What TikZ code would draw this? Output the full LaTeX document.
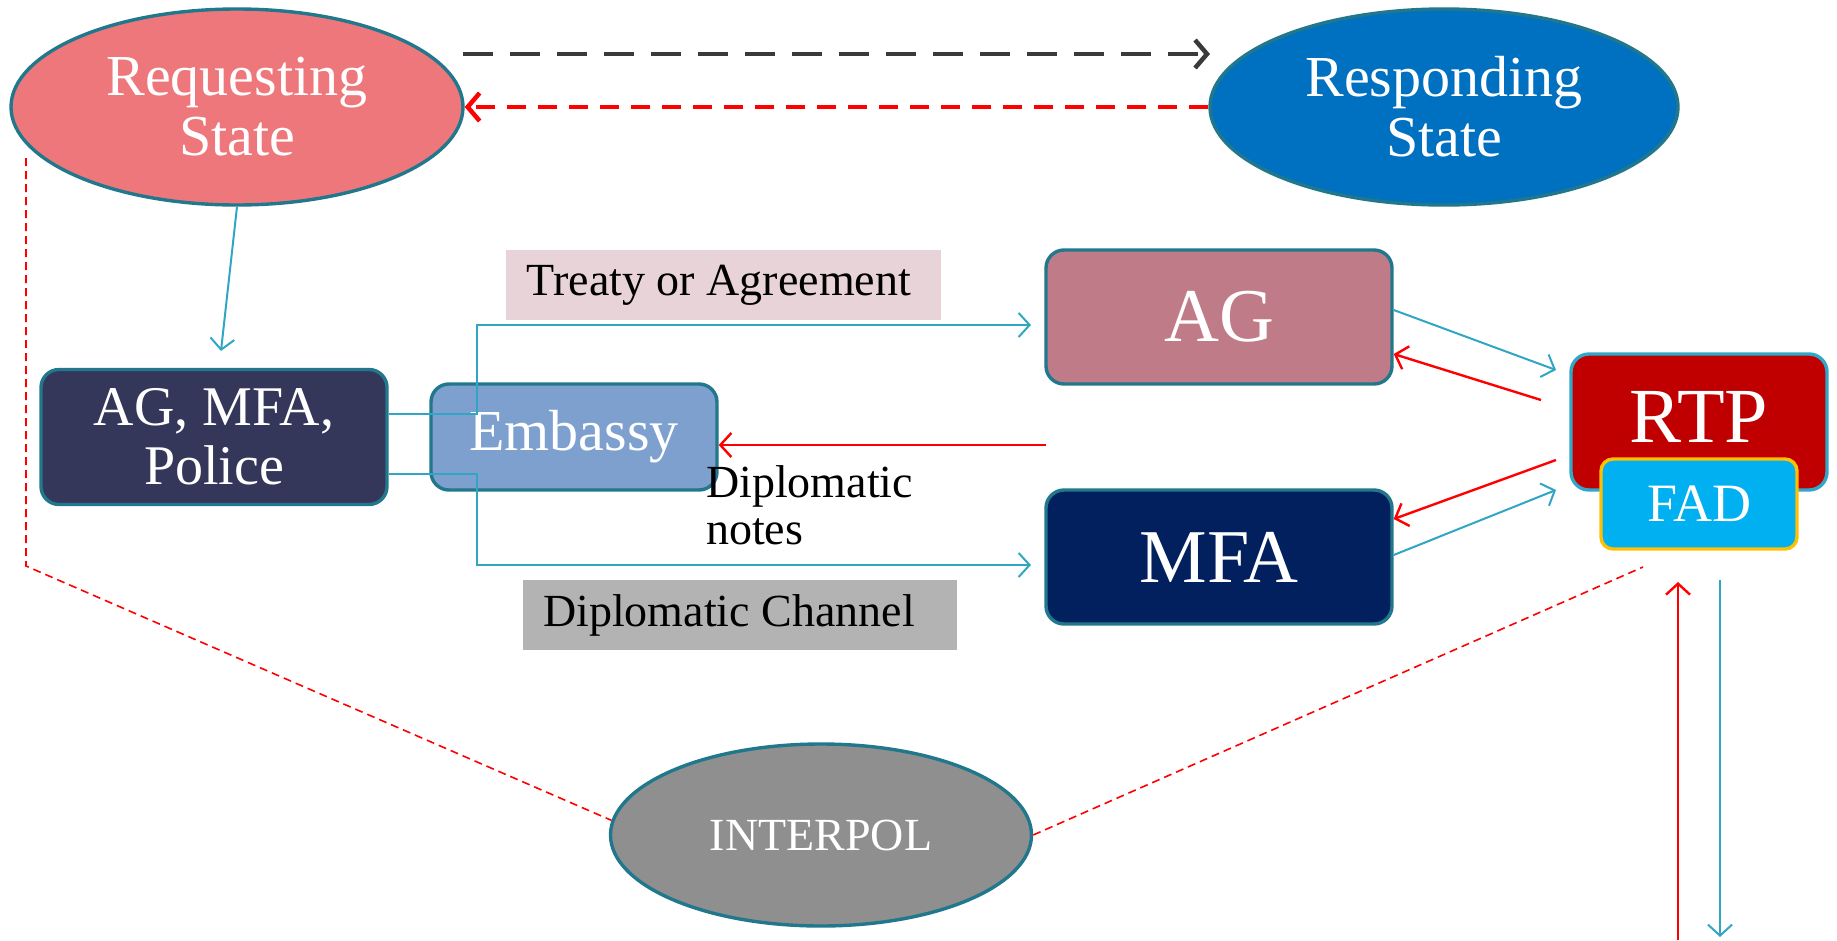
\documentclass[tikz,border=0pt]{standalone}
\usepackage{fontspec}
\setmainfont{Liberation Serif}
\usetikzlibrary{arrows.meta,shapes.geometric}
\definecolor{edgeteal}{HTML}{21788C}
\definecolor{connteal}{HTML}{31A6C4}
\definecolor{reqfill}{HTML}{EE777C}
\definecolor{respfill}{HTML}{0070C0}
\definecolor{agmfafill}{HTML}{35375A}
\definecolor{embfill}{HTML}{7EA0CF}
\definecolor{agfill}{HTML}{C07B89}
\definecolor{mfafill}{HTML}{02205E}
\definecolor{rtpfill}{HTML}{C00000}
\definecolor{rtpedge}{HTML}{31A6C8}
\definecolor{fadfill}{HTML}{00B0F0}
\definecolor{fadedge}{HTML}{FFC000}
\definecolor{intfill}{HTML}{8F8F8F}
\definecolor{treatyfill}{HTML}{E8D3D8}
\definecolor{chanfill}{HTML}{B3B3B3}
\definecolor{darkdash}{HTML}{3A3A3A}
\definecolor{redline}{HTML}{FF0000}
\tikzset{
  ell/.style={ellipse, draw=edgeteal, line width=3.4pt, inner sep=0pt, text=white, align=center},
  rbox/.style={rectangle, rounded corners=18pt, draw=edgeteal, line width=3.4pt, inner sep=0pt, text=white, align=center},
  labelbox/.style={rectangle, inner sep=0pt, text=black, font=\fontsize{46}{48}\selectfont},
  tconn/.style={draw=connteal, line width=2pt, -{Straight Barb[length=11pt,width=24pt]}},
  rconn/.style={draw=redline, line width=2.4pt, -{Straight Barb[length=11pt,width=24pt]}},
  bigdash/.style={line width=4.5pt, dash pattern=on 30pt off 17pt, -{Straight Barb[length=12pt,width=28pt]}},
  reddash/.style={line width=4.5pt, draw=redline, dash pattern=on 19pt off 12pt, -{Straight Barb[length=12pt,width=28pt]}},
  thindash/.style={draw=redline, line width=1.6pt, dash pattern=on 8pt off 5pt},
}
\begin{document}
\begin{tikzpicture}[x=1pt,y=-1pt]
\path[use as bounding box] (0,0) rectangle (1837,940);

% nodes
\node[ell, fill=reqfill, minimum width=452pt, minimum height=196pt, font=\fontsize{58}{60}\selectfont] (req) at (237,107) {Requesting\\State};
\node[ell, fill=respfill, minimum width=468pt, minimum height=196pt, font=\fontsize{58}{60}\selectfont] (resp) at (1444,107) {Responding\\State};
\node[rbox, fill=agmfafill, minimum width=346pt, minimum height=135pt, font=\fontsize{56}{59}\selectfont] (agmfa) at (214,437) {AG, MFA,\\Police};
\node[rbox, fill=embfill, minimum width=286pt, minimum height=106pt, font=\fontsize{58}{60}\selectfont] (emb) at (574,437) {Embassy};
\node[rbox, fill=agfill, minimum width=346pt, minimum height=134pt, font=\fontsize{76}{78}\selectfont] (ag) at (1219,317) {AG};
\node[rbox, fill=mfafill, minimum width=346pt, minimum height=134pt, font=\fontsize{76}{78}\selectfont] (mfa) at (1219,557) {MFA};
\node[rbox, fill=rtpfill, draw=rtpedge, minimum width=256pt, minimum height=136pt, font=\fontsize{78}{80}\selectfont] (rtp) at (1699,422) {\raisebox{10pt}{RTP}};
\node[rbox, rounded corners=12pt, fill=fadfill, draw=fadedge, minimum width=196pt, minimum height=90pt, font=\fontsize{54}{56}\selectfont] (fad) at (1699,504) {FAD};
\node[ell, fill=intfill, minimum width=421pt, minimum height=182pt, font=\fontsize{46}{48}\selectfont] (interpol) at (821,835) {INTERPOL};

\node[labelbox, fill=treatyfill, minimum width=435pt, minimum height=70pt] (treaty) at (723,285) {\kern-8pt Treaty or Agreement};
\node[labelbox, fill=chanfill, minimum width=434pt, minimum height=70pt] (dipch) at (740,615) {\kern-22pt Diplomatic Channel};
\node[inner sep=0pt, anchor=north west, align=left, text=black, font=\fontsize{46}{47}\selectfont] (notes) at (706,465) {Diplomatic\\notes};

% free ends
\coordinate (bdA) at (463,54);
\coordinate (bdB) at (1210,54);
\coordinate (reqTip) at (221,351);
\coordinate (kneeA) at (477,325);
\coordinate (kneeB) at (477,565);
\coordinate (toAG) at (1031,325);
\coordinate (toMFA) at (1031,565);
\coordinate (dnStart) at (1046,445);
\coordinate (agRtpEnd) at (1556,370);
\coordinate (rtpAgStart) at (1541,400);
\coordinate (rtpMfaStart) at (1556,460);
\coordinate (mfaRtpEnd) at (1556,490);
\coordinate (upBot) at (1678,940);
\coordinate (upTop) at (1678,582);
\coordinate (dnTop) at (1720,580);
\coordinate (dnBot) at (1720,937);
\coordinate (lTop) at (26,158);
\coordinate (lBot) at (26,566);
\coordinate (rTop) at (1643,567);

% connectors
\draw[bigdash, draw=darkdash] (bdA) -- (bdB);
\draw[reddash] (resp.west) -- (req.east);
\draw[tconn] (req.south) -- (reqTip);
\draw[tconn] ([yshift=23pt]agmfa.east) -| (kneeA) -- (toAG);
\draw[tconn] ([yshift=-37pt]agmfa.east) -| (kneeB) -- (toMFA);
\draw[rconn] (dnStart) -- ([yshift=-8pt]emb.east);
\draw[tconn] ([yshift=7pt]ag.east) -- (agRtpEnd);
\draw[rconn] (rtpAgStart) -- ([yshift=-37pt]ag.east);
\draw[rconn] (rtpMfaStart) -- ([yshift=38pt]mfa.east);
\draw[tconn] ([yshift=2pt]mfa.east) -- (mfaRtpEnd);
\draw[rconn] (upBot) -- (upTop);
\draw[tconn] (dnTop) -- (dnBot);
\draw[thindash] (lTop) -- (lBot) -- (interpol.176);
\draw[thindash] (interpol.east) -- (rTop);
\end{tikzpicture}
\end{document}
